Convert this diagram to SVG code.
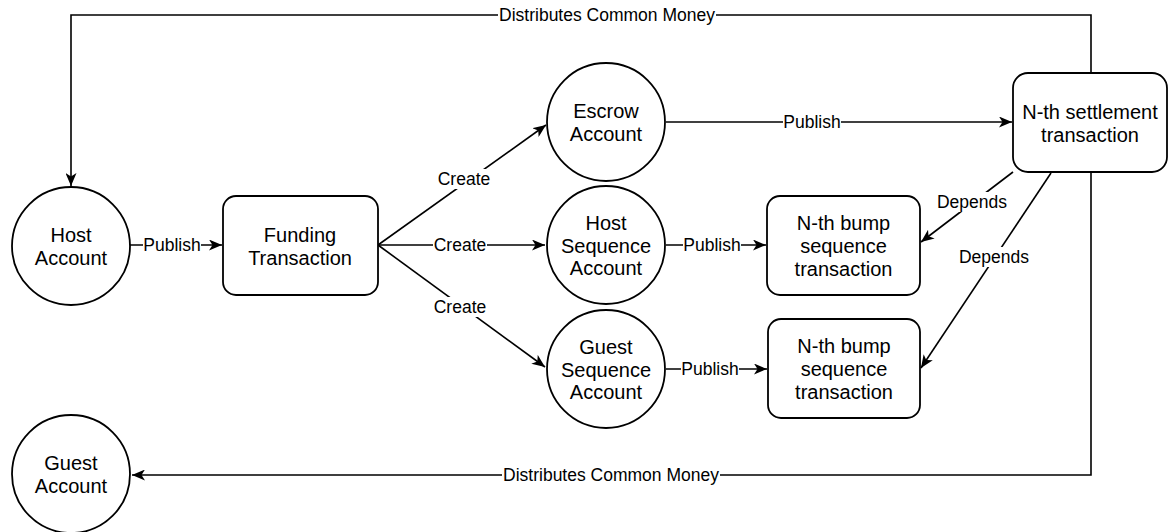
<svg xmlns="http://www.w3.org/2000/svg" width="1170" height="532" viewBox="0 0 1170 532">
<style>
.n{fill:#fff;stroke:#000;stroke-width:1.8}
.t{font-family:"Liberation Sans",Arial,sans-serif;font-size:20px;fill:#000;text-anchor:middle;dominant-baseline:central}
.e{fill:none;stroke:#000;stroke-width:1.6}
.b{fill:#fff;stroke:none}
.l{font-family:"Liberation Sans",Arial,sans-serif;font-size:17.5px;fill:#000;text-anchor:middle;dominant-baseline:central}
</style>
<defs>
<marker id="a" viewBox="0 0 13 11" refX="13" refY="5.5" markerWidth="13" markerHeight="11" markerUnits="userSpaceOnUse" orient="auto">
<path d="M0,0 L13,5.5 L0,11 L3.5,5.5 Z" fill="#000"/>
</marker>
</defs>
<rect width="1170" height="532" fill="#fff"/>
<g id="connectors">
<path class="e" d="M1091 73 V15 H71 V186" marker-end="url(#a)"/>
<path class="e" d="M1091 172 V475 H132" marker-end="url(#a)"/>
<path class="e" d="M130 245 H222" marker-end="url(#a)"/>
<path class="e" d="M378 245 L546 125" marker-end="url(#a)"/>
<path class="e" d="M378 245 H545" marker-end="url(#a)"/>
<path class="e" d="M378 245 L545 367" marker-end="url(#a)"/>
<path class="e" d="M666 122 H1012" marker-end="url(#a)"/>
<path class="e" d="M666 245 H766" marker-end="url(#a)"/>
<path class="e" d="M666 369 H767" marker-end="url(#a)"/>
<path class="e" d="M1013 172 L921 242" marker-end="url(#a)"/>
<path class="e" d="M1051 173 L921 368" marker-end="url(#a)"/>
<rect class="b" x="498" y="5" width="218" height="20"/>
<text class="l" x="607" y="15">Distributes Common Money</text>
<rect class="b" x="502" y="465" width="218" height="20"/>
<text class="l" x="611" y="475">Distributes Common Money</text>
<rect class="b" x="143" y="235" width="58" height="20"/>
<text class="l" x="172" y="245">Publish</text>
<rect class="b" x="437" y="169" width="54" height="20"/>
<text class="l" x="464" y="179">Create</text>
<rect class="b" x="433" y="235" width="54" height="20"/>
<text class="l" x="460" y="245">Create</text>
<rect class="b" x="433" y="297" width="54" height="20"/>
<text class="l" x="460" y="307">Create</text>
<rect class="b" x="783" y="112" width="58" height="20"/>
<text class="l" x="812" y="122">Publish</text>
<rect class="b" x="683" y="235" width="58" height="20"/>
<text class="l" x="712" y="245">Publish</text>
<rect class="b" x="681" y="359" width="58" height="20"/>
<text class="l" x="710" y="369">Publish</text>
<rect class="b" x="936" y="192" width="72" height="20"/>
<text class="l" x="972" y="202">Depends</text>
<rect class="b" x="958" y="247" width="72" height="20"/>
<text class="l" x="994" y="257">Depends</text>
</g>
<g id="host-account">
<circle class="n" cx="71" cy="246" r="59"/>
<text class="t" x="71" y="235">Host</text>
<text class="t" x="71" y="258">Account</text>
</g>
<g id="guest-account">
<circle class="n" cx="71" cy="474" r="59"/>
<text class="t" x="71" y="463">Guest</text>
<text class="t" x="71" y="486">Account</text>
</g>
<g id="funding-transaction">
<rect class="n" x="223" y="196" width="155" height="99" rx="13"/>
<text class="t" x="300" y="235">Funding</text>
<text class="t" x="300" y="258">Transaction</text>
</g>
<g id="escrow-account">
<circle class="n" cx="606" cy="122" r="59"/>
<text class="t" x="606" y="111">Escrow</text>
<text class="t" x="606" y="134">Account</text>
</g>
<g id="host-sequence-account">
<circle class="n" cx="606" cy="245" r="59"/>
<text class="t" x="606" y="223">Host</text>
<text class="t" x="606" y="246">Sequence</text>
<text class="t" x="606" y="268">Account</text>
</g>
<g id="guest-sequence-account">
<circle class="n" cx="606" cy="369" r="59"/>
<text class="t" x="606" y="347">Guest</text>
<text class="t" x="606" y="370">Sequence</text>
<text class="t" x="606" y="392">Account</text>
</g>
<g id="settlement-transaction">
<rect class="n" x="1013" y="73" width="154" height="99" rx="15"/>
<text class="t" x="1090" y="112">N-th settlement</text>
<text class="t" x="1090" y="135">transaction</text>
</g>
<g id="bump-transaction-1">
<rect class="n" x="767" y="196" width="153" height="99" rx="13"/>
<text class="t" x="843.5" y="223">N-th bump</text>
<text class="t" x="843.5" y="246">sequence</text>
<text class="t" x="843.5" y="269">transaction</text>
</g>
<g id="bump-transaction-2">
<rect class="n" x="768" y="319" width="152" height="99" rx="13"/>
<text class="t" x="844" y="346">N-th bump</text>
<text class="t" x="844" y="369">sequence</text>
<text class="t" x="844" y="392">transaction</text>
</g>
</svg>
